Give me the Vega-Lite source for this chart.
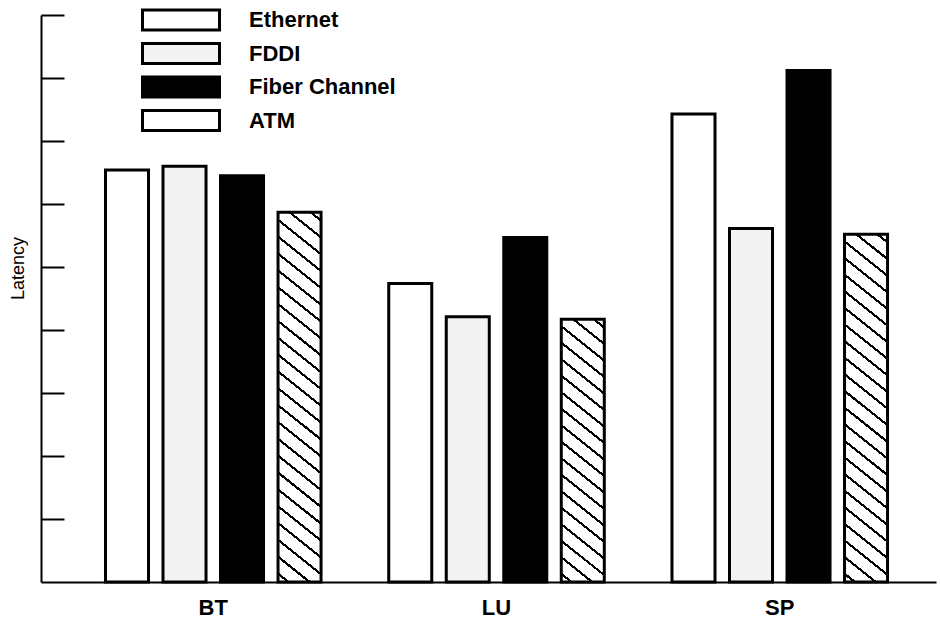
{
  "$schema": "https://vega.github.io/schema/vega-lite/v6.json",
  "width": 895,
  "height": 567,
  "autosize": "none",
  "padding": {"left": 41, "top": 15, "right": 4, "bottom": 43},
  "background": "white",
  "config": {"view": {"stroke": null}, "font": "Liberation Sans"},
  "data": {
    "values": [
      {"app": "BT", "network": "Ethernet", "latency": 6.54},
      {"app": "BT", "network": "FDDI", "latency": 6.60},
      {"app": "BT", "network": "Fiber Channel", "latency": 6.45},
      {"app": "BT", "network": "ATM", "latency": 5.87},
      {"app": "LU", "network": "Ethernet", "latency": 4.74},
      {"app": "LU", "network": "FDDI", "latency": 4.21},
      {"app": "LU", "network": "Fiber Channel", "latency": 5.47},
      {"app": "LU", "network": "ATM", "latency": 4.17},
      {"app": "SP", "network": "Ethernet", "latency": 7.43},
      {"app": "SP", "network": "FDDI", "latency": 5.61},
      {"app": "SP", "network": "Fiber Channel", "latency": 8.12},
      {"app": "SP", "network": "ATM", "latency": 5.52}
    ]
  },
  "mark": {"type": "bar", "stroke": "black", "strokeWidth": 3},
  "encoding": {
    "x": {
      "field": "app",
      "type": "nominal",
      "sort": ["BT", "LU", "SP"],
      "scale": {"paddingInner": 0.239, "paddingOuter": 0.1994, "align": 0.571},
      "axis": {
        "title": null,
        "domainColor": "black",
        "domainWidth": 2,
        "ticks": false,
        "tickSize": 0,
        "labelAngle": 0,
        "labelFontSize": 22,
        "labelFontWeight": "bold",
        "labelColor": "black",
        "labelBaseline": "alphabetic",
        "labelPadding": 32
      }
    },
    "xOffset": {
      "field": "network",
      "type": "nominal",
      "sort": ["Ethernet", "FDDI", "Fiber Channel", "ATM"],
      "scale": {"paddingInner": 0.252, "paddingOuter": 0}
    },
    "y": {
      "field": "latency",
      "type": "quantitative",
      "scale": {"domain": [0, 9], "nice": false},
      "axis": {
        "title": "Latency",
        "values": [1, 2, 3, 4, 5, 6, 7, 8, 9],
        "labels": false,
        "grid": false,
        "domainColor": "black",
        "domainWidth": 2,
        "tickColor": "black",
        "tickWidth": 2,
        "tickSize": -23,
        "titleFontSize": 18,
        "titleFontWeight": "normal",
        "titleColor": "black",
        "titleAngle": -90,
        "titleX": -18,
        "titleY": 253,
        "titleAlign": "center",
        "titleBaseline": "alphabetic"
      }
    },
    "fill": {
      "field": "network",
      "type": "nominal",
      "scale": {
        "domain": ["Ethernet", "FDDI", "Fiber Channel", "ATM"],
        "range": ["white", "#f3f3f3", "black", "white"]
      },
      "condition": [
        {
          "test": "datum.network === 'ATM' && datum.app === 'BT'",
          "value": {
            "gradient": "linear", "x1": 0, "y1": 1, "x2": 0.1008, "y2": -0.0837,
            "stops": [
              {"offset": 0, "color": "white"},
              {"offset": 0.0173, "color": "white"}, {"offset": 0.0173, "color": "black"}, {"offset": 0.0243, "color": "black"}, {"offset": 0.0243, "color": "white"},
              {"offset": 0.0590, "color": "white"}, {"offset": 0.0590, "color": "black"}, {"offset": 0.0660, "color": "black"}, {"offset": 0.0660, "color": "white"},
              {"offset": 0.1007, "color": "white"}, {"offset": 0.1007, "color": "black"}, {"offset": 0.1077, "color": "black"}, {"offset": 0.1077, "color": "white"},
              {"offset": 0.1423, "color": "white"}, {"offset": 0.1423, "color": "black"}, {"offset": 0.1493, "color": "black"}, {"offset": 0.1493, "color": "white"},
              {"offset": 0.1840, "color": "white"}, {"offset": 0.1840, "color": "black"}, {"offset": 0.1910, "color": "black"}, {"offset": 0.1910, "color": "white"},
              {"offset": 0.2257, "color": "white"}, {"offset": 0.2257, "color": "black"}, {"offset": 0.2327, "color": "black"}, {"offset": 0.2327, "color": "white"},
              {"offset": 0.2673, "color": "white"}, {"offset": 0.2673, "color": "black"}, {"offset": 0.2743, "color": "black"}, {"offset": 0.2743, "color": "white"},
              {"offset": 0.3090, "color": "white"}, {"offset": 0.3090, "color": "black"}, {"offset": 0.3160, "color": "black"}, {"offset": 0.3160, "color": "white"},
              {"offset": 0.3507, "color": "white"}, {"offset": 0.3507, "color": "black"}, {"offset": 0.3577, "color": "black"}, {"offset": 0.3577, "color": "white"},
              {"offset": 0.3923, "color": "white"}, {"offset": 0.3923, "color": "black"}, {"offset": 0.3993, "color": "black"}, {"offset": 0.3993, "color": "white"},
              {"offset": 0.4340, "color": "white"}, {"offset": 0.4340, "color": "black"}, {"offset": 0.4410, "color": "black"}, {"offset": 0.4410, "color": "white"},
              {"offset": 0.4757, "color": "white"}, {"offset": 0.4757, "color": "black"}, {"offset": 0.4827, "color": "black"}, {"offset": 0.4827, "color": "white"},
              {"offset": 0.5173, "color": "white"}, {"offset": 0.5173, "color": "black"}, {"offset": 0.5243, "color": "black"}, {"offset": 0.5243, "color": "white"},
              {"offset": 0.5590, "color": "white"}, {"offset": 0.5590, "color": "black"}, {"offset": 0.5660, "color": "black"}, {"offset": 0.5660, "color": "white"},
              {"offset": 0.6007, "color": "white"}, {"offset": 0.6007, "color": "black"}, {"offset": 0.6077, "color": "black"}, {"offset": 0.6077, "color": "white"},
              {"offset": 0.6423, "color": "white"}, {"offset": 0.6423, "color": "black"}, {"offset": 0.6493, "color": "black"}, {"offset": 0.6493, "color": "white"},
              {"offset": 0.6840, "color": "white"}, {"offset": 0.6840, "color": "black"}, {"offset": 0.6910, "color": "black"}, {"offset": 0.6910, "color": "white"},
              {"offset": 0.7257, "color": "white"}, {"offset": 0.7257, "color": "black"}, {"offset": 0.7327, "color": "black"}, {"offset": 0.7327, "color": "white"},
              {"offset": 0.7673, "color": "white"}, {"offset": 0.7673, "color": "black"}, {"offset": 0.7743, "color": "black"}, {"offset": 0.7743, "color": "white"},
              {"offset": 0.8090, "color": "white"}, {"offset": 0.8090, "color": "black"}, {"offset": 0.8160, "color": "black"}, {"offset": 0.8160, "color": "white"},
              {"offset": 0.8507, "color": "white"}, {"offset": 0.8507, "color": "black"}, {"offset": 0.8577, "color": "black"}, {"offset": 0.8577, "color": "white"},
              {"offset": 0.8923, "color": "white"}, {"offset": 0.8923, "color": "black"}, {"offset": 0.8993, "color": "black"}, {"offset": 0.8993, "color": "white"},
              {"offset": 0.9340, "color": "white"}, {"offset": 0.9340, "color": "black"}, {"offset": 0.9410, "color": "black"}, {"offset": 0.9410, "color": "white"},
              {"offset": 0.9757, "color": "white"}, {"offset": 0.9757, "color": "black"}, {"offset": 0.9827, "color": "black"}, {"offset": 0.9827, "color": "white"},
              {"offset": 1, "color": "white"}
            ]
          }
        },
        {
          "test": "datum.network === 'ATM' && datum.app === 'LU'",
          "value": {
            "gradient": "linear", "x1": 0, "y1": 1, "x2": 0.1456, "y2": -0.1119,
            "stops": [
              {"offset": 0, "color": "white"},
              {"offset": 0.0231, "color": "white"}, {"offset": 0.0231, "color": "black"}, {"offset": 0.0325, "color": "black"}, {"offset": 0.0325, "color": "white"},
              {"offset": 0.0786, "color": "white"}, {"offset": 0.0786, "color": "black"}, {"offset": 0.0880, "color": "black"}, {"offset": 0.0880, "color": "white"},
              {"offset": 0.1342, "color": "white"}, {"offset": 0.1342, "color": "black"}, {"offset": 0.1436, "color": "black"}, {"offset": 0.1436, "color": "white"},
              {"offset": 0.1897, "color": "white"}, {"offset": 0.1897, "color": "black"}, {"offset": 0.1991, "color": "black"}, {"offset": 0.1991, "color": "white"},
              {"offset": 0.2453, "color": "white"}, {"offset": 0.2453, "color": "black"}, {"offset": 0.2547, "color": "black"}, {"offset": 0.2547, "color": "white"},
              {"offset": 0.3009, "color": "white"}, {"offset": 0.3009, "color": "black"}, {"offset": 0.3103, "color": "black"}, {"offset": 0.3103, "color": "white"},
              {"offset": 0.3564, "color": "white"}, {"offset": 0.3564, "color": "black"}, {"offset": 0.3658, "color": "black"}, {"offset": 0.3658, "color": "white"},
              {"offset": 0.4120, "color": "white"}, {"offset": 0.4120, "color": "black"}, {"offset": 0.4214, "color": "black"}, {"offset": 0.4214, "color": "white"},
              {"offset": 0.4675, "color": "white"}, {"offset": 0.4675, "color": "black"}, {"offset": 0.4769, "color": "black"}, {"offset": 0.4769, "color": "white"},
              {"offset": 0.5231, "color": "white"}, {"offset": 0.5231, "color": "black"}, {"offset": 0.5325, "color": "black"}, {"offset": 0.5325, "color": "white"},
              {"offset": 0.5786, "color": "white"}, {"offset": 0.5786, "color": "black"}, {"offset": 0.5880, "color": "black"}, {"offset": 0.5880, "color": "white"},
              {"offset": 0.6342, "color": "white"}, {"offset": 0.6342, "color": "black"}, {"offset": 0.6436, "color": "black"}, {"offset": 0.6436, "color": "white"},
              {"offset": 0.6897, "color": "white"}, {"offset": 0.6897, "color": "black"}, {"offset": 0.6991, "color": "black"}, {"offset": 0.6991, "color": "white"},
              {"offset": 0.7453, "color": "white"}, {"offset": 0.7453, "color": "black"}, {"offset": 0.7547, "color": "black"}, {"offset": 0.7547, "color": "white"},
              {"offset": 0.8009, "color": "white"}, {"offset": 0.8009, "color": "black"}, {"offset": 0.8103, "color": "black"}, {"offset": 0.8103, "color": "white"},
              {"offset": 0.8564, "color": "white"}, {"offset": 0.8564, "color": "black"}, {"offset": 0.8658, "color": "black"}, {"offset": 0.8658, "color": "white"},
              {"offset": 0.9120, "color": "white"}, {"offset": 0.9120, "color": "black"}, {"offset": 0.9214, "color": "black"}, {"offset": 0.9214, "color": "white"},
              {"offset": 0.9675, "color": "white"}, {"offset": 0.9675, "color": "black"}, {"offset": 0.9769, "color": "black"}, {"offset": 0.9769, "color": "white"},
              {"offset": 1, "color": "white"}
            ]
          }
        },
        {
          "test": "datum.network === 'ATM' && datum.app === 'SP'",
          "value": {
            "gradient": "linear", "x1": 0, "y1": 1, "x2": 0.1076, "y2": -0.0883,
            "stops": [
              {"offset": 0, "color": "white"},
              {"offset": 0.0180, "color": "white"}, {"offset": 0.0180, "color": "black"}, {"offset": 0.0254, "color": "black"}, {"offset": 0.0254, "color": "white"},
              {"offset": 0.0615, "color": "white"}, {"offset": 0.0615, "color": "black"}, {"offset": 0.0689, "color": "black"}, {"offset": 0.0689, "color": "white"},
              {"offset": 0.1050, "color": "white"}, {"offset": 0.1050, "color": "black"}, {"offset": 0.1124, "color": "black"}, {"offset": 0.1124, "color": "white"},
              {"offset": 0.1485, "color": "white"}, {"offset": 0.1485, "color": "black"}, {"offset": 0.1559, "color": "black"}, {"offset": 0.1559, "color": "white"},
              {"offset": 0.1920, "color": "white"}, {"offset": 0.1920, "color": "black"}, {"offset": 0.1994, "color": "black"}, {"offset": 0.1994, "color": "white"},
              {"offset": 0.2354, "color": "white"}, {"offset": 0.2354, "color": "black"}, {"offset": 0.2428, "color": "black"}, {"offset": 0.2428, "color": "white"},
              {"offset": 0.2789, "color": "white"}, {"offset": 0.2789, "color": "black"}, {"offset": 0.2863, "color": "black"}, {"offset": 0.2863, "color": "white"},
              {"offset": 0.3224, "color": "white"}, {"offset": 0.3224, "color": "black"}, {"offset": 0.3298, "color": "black"}, {"offset": 0.3298, "color": "white"},
              {"offset": 0.3659, "color": "white"}, {"offset": 0.3659, "color": "black"}, {"offset": 0.3733, "color": "black"}, {"offset": 0.3733, "color": "white"},
              {"offset": 0.4093, "color": "white"}, {"offset": 0.4093, "color": "black"}, {"offset": 0.4167, "color": "black"}, {"offset": 0.4167, "color": "white"},
              {"offset": 0.4528, "color": "white"}, {"offset": 0.4528, "color": "black"}, {"offset": 0.4602, "color": "black"}, {"offset": 0.4602, "color": "white"},
              {"offset": 0.4963, "color": "white"}, {"offset": 0.4963, "color": "black"}, {"offset": 0.5037, "color": "black"}, {"offset": 0.5037, "color": "white"},
              {"offset": 0.5398, "color": "white"}, {"offset": 0.5398, "color": "black"}, {"offset": 0.5472, "color": "black"}, {"offset": 0.5472, "color": "white"},
              {"offset": 0.5833, "color": "white"}, {"offset": 0.5833, "color": "black"}, {"offset": 0.5907, "color": "black"}, {"offset": 0.5907, "color": "white"},
              {"offset": 0.6267, "color": "white"}, {"offset": 0.6267, "color": "black"}, {"offset": 0.6341, "color": "black"}, {"offset": 0.6341, "color": "white"},
              {"offset": 0.6702, "color": "white"}, {"offset": 0.6702, "color": "black"}, {"offset": 0.6776, "color": "black"}, {"offset": 0.6776, "color": "white"},
              {"offset": 0.7137, "color": "white"}, {"offset": 0.7137, "color": "black"}, {"offset": 0.7211, "color": "black"}, {"offset": 0.7211, "color": "white"},
              {"offset": 0.7572, "color": "white"}, {"offset": 0.7572, "color": "black"}, {"offset": 0.7646, "color": "black"}, {"offset": 0.7646, "color": "white"},
              {"offset": 0.8007, "color": "white"}, {"offset": 0.8007, "color": "black"}, {"offset": 0.8081, "color": "black"}, {"offset": 0.8081, "color": "white"},
              {"offset": 0.8441, "color": "white"}, {"offset": 0.8441, "color": "black"}, {"offset": 0.8515, "color": "black"}, {"offset": 0.8515, "color": "white"},
              {"offset": 0.8876, "color": "white"}, {"offset": 0.8876, "color": "black"}, {"offset": 0.8950, "color": "black"}, {"offset": 0.8950, "color": "white"},
              {"offset": 0.9311, "color": "white"}, {"offset": 0.9311, "color": "black"}, {"offset": 0.9385, "color": "black"}, {"offset": 0.9385, "color": "white"},
              {"offset": 0.9746, "color": "white"}, {"offset": 0.9746, "color": "black"}, {"offset": 0.9820, "color": "black"}, {"offset": 0.9820, "color": "white"},
              {"offset": 1, "color": "white"}
            ]
          }
        }
      ],
      "legend": {
        "title": null,
        "orient": "none",
        "legendX": 100,
        "legendY": -7,
        "padding": 0,
        "symbolType": "M-1,-0.26H1V0.26H-1Z",
        "symbolSize": 5929,
        "symbolStrokeColor": "black",
        "symbolStrokeWidth": 3,
        "symbolOpacity": 1,
        "clipHeight": 24,
        "rowPadding": 9.5,
        "labelFontSize": 22,
        "labelFontWeight": "bold",
        "labelColor": "black",
        "labelOffset": 28,
        "encoding": {
          "symbols": {
            "fill": {
              "condition": [
                {
                  "test": "datum.value === 'ATM'",
                  "value": {
                    "gradient": "linear", "x1": 0, "y1": 1, "x2": 1, "y2": 0.74,
                    "stops": [
                      {"offset": 0, "color": "white"},
                      {"offset": 0.0815, "color": "white"}, {"offset": 0.0815, "color": "black"}, {"offset": 0.1155, "color": "black"}, {"offset": 0.1155, "color": "white"},
                      {"offset": 0.2786, "color": "white"}, {"offset": 0.2786, "color": "black"}, {"offset": 0.3126, "color": "black"}, {"offset": 0.3126, "color": "white"},
                      {"offset": 0.4757, "color": "white"}, {"offset": 0.4757, "color": "black"}, {"offset": 0.5097, "color": "black"}, {"offset": 0.5097, "color": "white"},
                      {"offset": 0.6728, "color": "white"}, {"offset": 0.6728, "color": "black"}, {"offset": 0.7068, "color": "black"}, {"offset": 0.7068, "color": "white"},
                      {"offset": 0.8699, "color": "white"}, {"offset": 0.8699, "color": "black"}, {"offset": 0.9039, "color": "black"}, {"offset": 0.9039, "color": "white"},
                      {"offset": 1, "color": "white"}
                    ]
                  }
                },
                {"test": "datum.value === 'FDDI'", "value": "#f3f3f3"},
                {"test": "datum.value === 'Fiber Channel'", "value": "black"}
              ],
              "value": "white"
            },
            "stroke": {"value": "black"},
            "strokeWidth": {"value": 3}
          }
        }
      }
    }
  }
}
